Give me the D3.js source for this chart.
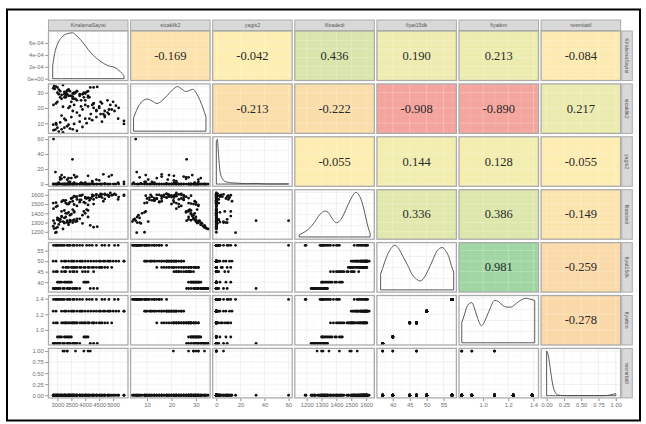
<!DOCTYPE html>
<html>
<head>
<meta charset="utf-8">
<script src="https://cdn.jsdelivr.net/npm/d3@7"></script>
<style>
  body { margin: 0; background: #fff; }
  svg { display: block; }
</style>
</head>
<body>
<svg id="chart"></svg>
<script>
// variable names (strip labels)
const varNames = ["KiralamaSayisi", "sicaklik2", "yagis2", "filoadedi", "fiyat15dk", "fiyatkm", "resmitatil"];

const kiralama = [
  2860, 2930, 2960, 3050, 3150, 3250, 3350, 3450, 3600, 3700, 3900, 4050, 4250, 4400, 4600, 4850, 5050, 5180, 3800, 3100, 3000, 3200, 3400, 3550, 4150, 4700,
  2850, 5390, 5390, 3300, 3500, 3700, 3900, 4100, 4300, 4500, 4700, 4900, 5000, 4650, 3400, 3600, 4000, 4400, 3150, 4800, 5200, 3800, 2950, 3250, 3550, 3850, 4200, 4550, 4850, 5100,
  3200, 3350, 3500, 3650, 3800, 3950, 4100, 4250, 4400, 4550, 4700, 4950, 3300, 3700, 4000, 4300, 4600, 3550, 3400, 3600, 3850, 4150, 4500, 4800,
  2860, 3000, 3150, 3300, 3450, 3700, 3900, 4100, 4300, 3550, 2950, 3250, 3600, 4000,
  3000, 3100, 3250, 3400, 3500, 3950, 4050, 3350, 3150, 4000, 3050, 3300, 3450, 4100,
  2850, 2950, 3050, 3200, 3350, 3540, 3650, 3800, 4180, 4300, 4430, 3100, 3450, 2900, 2880, 3000, 3250, 3400, 3600, 3700
];
const sicaklik = [
  5.4, 5.8, 9, 4.5, 6, 7, 8, 6.5, 9.5, 5, 7.5, 10, 12, 14, 11, 16, 18, 13, 15, 10.5, 7, 4, 9, 6, 13, 15,
  9, 11.5, 9.5, 12, 14, 17, 19, 21, 23, 20, 18, 22, 24, 16, 20, 22, 13, 18.5, 15, 25, 20, 11, 10, 13, 18, 21, 16, 24, 19, 21.5,
  20.8, 29, 24, 26, 28, 30, 31, 22, 18, 16, 14, 19, 27, 31, 25, 20, 23, 29.5, 28, 30, 25, 27, 21, 17,
  22, 24, 26, 28, 21, 25, 29, 27, 23, 27.5, 23, 27, 26, 22,
  30, 31, 29, 32, 28, 27, 30.5, 31.5, 28.5, 29.5, 29, 30, 31, 28,
  33, 34, 32, 35, 31, 26.2, 30, 29, 33.5, 33.5, 33.8, 27, 28, 32.5, 34.5, 33.5, 30.5, 32, 29.5, 31
];
const yagis = [
  60, 16, 0, 2, 0, 9, 0, 0, 12, 0, 1, 0, 3, 0, 0, 10, 0, 2, 0, 6, 0, 0, 3, 0, 0, 0,
  0, 0, 3, 0, 8, 0, 0, 11, 0, 0, 1, 0, 0, 13, 0, 0, 0, 6, 0, 0, 0, 0, 0, 0, 0, 2, 0, 0, 0, 0,
  0, 0, 0, 9, 0, 0, 0, 4, 0, 0, 0, 12, 0, 0, 0, 0, 0, 0, 0, 0, 0, 0, 5, 0,
  0, 0, 7, 0, 0, 10, 0, 0, 0, 0, 0, 0, 0, 2,
  0, 0, 0, 8, 0, 0, 0, 0, 12, 0, 0, 0, 3, 0,
  0, 0, 0, 0, 6, 33, 0, 0, 0, 0, 0, 9, 0, 0, 0, 0, 0, 0, 2, 0
];
const filoadedi = [
  1320, 1190, 1195, 1330, 1360, 1300, 1400, 1380, 1420, 1340, 1290, 1560, 1580, 1600, 1570, 1590, 1610, 1550, 1520, 1310, 1350, 1310, 1410, 1300, 1540, 1600,
  1510, 1600, 1590, 1540, 1560, 1580, 1600, 1570, 1550, 1590, 1610, 1620, 1600, 1530, 1500, 1585, 1565, 1605, 1525, 1595, 1575, 1545, 1515, 1535, 1570, 1590, 1560, 1610, 1580, 1600,
  1540, 1500, 1560, 1580, 1590, 1520, 1490, 1600, 1570, 1585, 1555, 1595, 1510, 1480, 1575, 1590, 1605, 1530, 1505, 1495, 1545, 1565, 1580, 1600,
  1450, 1480, 1420, 1400, 1520, 1550, 1380, 1360, 1500, 1440, 1470, 1430, 1410, 1510,
  1330, 1310, 1350, 1300, 1390, 1420, 1440, 1320, 1370, 1400, 1340, 1360, 1305, 1430,
  1260, 1240, 1280, 1230, 1300, 1320, 1310, 1340, 1270, 1250, 1255, 1335, 1325, 1290, 1235, 1250, 1295, 1275, 1330, 1315
];
const fiyat15dk = [
  57.5, 57.5, 57.5, 57.5, 57.5, 57.5, 57.5, 57.5, 57.5, 57.5, 57.5, 57.5, 57.5, 57.5, 57.5, 57.5, 57.5, 57.5, 57.5, 57.5, 57.5, 57.5, 57.5, 57.5, 57.5, 57.5,
  50, 50, 50, 50, 50, 50, 50, 50, 50, 50, 50, 50, 50, 50, 50, 50, 50, 50, 50, 50, 50, 50, 50, 50, 50, 50, 50, 50, 50, 50,
  47, 47, 47, 47, 47, 47, 47, 47, 47, 47, 47, 47, 47, 47, 47, 47, 47, 47, 47, 47, 47, 47, 47, 47,
  45, 45, 45, 45, 45, 45, 45, 45, 45, 45, 45, 45, 45, 45,
  40, 40, 40, 40, 40, 40, 40, 40, 40, 40, 40, 40, 40, 40,
  37, 37, 37, 37, 37, 37, 37, 37, 37, 37, 37, 37, 37, 37, 37, 37, 37, 37, 37, 37
];
const fiyatkm = [
  1.39, 1.39, 1.39, 1.39, 1.39, 1.39, 1.39, 1.39, 1.39, 1.39, 1.39, 1.39, 1.39, 1.39, 1.39, 1.39, 1.39, 1.39, 1.39, 1.39, 1.39, 1.39, 1.39, 1.39, 1.39, 1.39,
  1.24, 1.24, 1.24, 1.24, 1.24, 1.24, 1.24, 1.24, 1.24, 1.24, 1.24, 1.24, 1.24, 1.24, 1.24, 1.24, 1.24, 1.24, 1.24, 1.24, 1.24, 1.24, 1.24, 1.24, 1.24, 1.24, 1.24, 1.24, 1.24, 1.24,
  1.09, 1.09, 1.09, 1.09, 1.09, 1.09, 1.09, 1.09, 1.09, 1.09, 1.09, 1.09, 1.09, 1.09, 1.09, 1.09, 1.09, 1.09, 1.09, 1.09, 1.09, 1.09, 1.09, 1.09,
  1.09, 1.09, 1.09, 1.09, 1.09, 1.09, 1.09, 1.09, 1.09, 1.09, 1.09, 1.09, 1.09, 1.09,
  0.91, 0.91, 0.91, 0.91, 0.91, 0.91, 0.91, 0.91, 0.91, 0.91, 0.91, 0.91, 0.91, 0.91,
  0.83, 0.83, 0.83, 0.83, 0.83, 0.83, 0.83, 0.83, 0.83, 0.83, 0.83, 0.83, 0.83, 0.83, 0.83, 0.83, 0.83, 0.83, 0.83, 0.83
];
const resmitatil = [
  0, 0, 0, 0, 0, 0, 0, 0, 0, 0, 0, 0, 0, 0, 0, 0, 0, 0, 0, 0, 0, 0, 0, 0, 0, 0,
  0, 0, 0, 0, 0, 0, 0, 0, 0, 0, 0, 0, 0, 0, 0, 0, 0, 0, 0, 0, 0, 0, 0, 0, 0, 0, 0, 0, 0, 0,
  1, 1, 0, 0, 0, 0, 1, 0, 0, 0, 0, 0, 0, 0, 0, 0, 0, 0, 0, 0, 0, 0, 0, 0,
  0, 0, 0, 0, 0, 0, 0, 0, 0, 0, 0, 0, 0, 0,
  0, 0, 1, 0, 0, 1, 0, 0, 0, 0, 0, 0, 0, 0,
  0, 0, 0, 0, 1, 0, 1, 0, 1, 0, 0, 0, 0, 0, 0, 0, 0, 0, 0, 0
];

// correlation labels of the upper triangle, row by row
const corrUpper = [
  [-0.169, -0.042, 0.436, 0.190, 0.213, -0.084],
  [-0.213, -0.222, -0.908, -0.890, 0.217],
  [-0.055, 0.144, 0.128, -0.055],
  [0.336, 0.386, -0.149],
  [0.981, -0.259],
  [-0.278]
];

// density curves on the diagonal: [value, height relative to the peak]
const densKiralama = [[2830,0.28],[2900,0.55],[3000,0.75],[3150,0.9],[3350,0.98],[3540,1.0],[3700,0.93],[3930,0.78],[4100,0.64],[4290,0.51],[4500,0.4],[4790,0.29],[5070,0.24],[5250,0.16],[5390,0.07]];
const densSicaklik = [[4.5,0.3],[7,0.6],[10,0.72],[12,0.68],[14.1,0.62],[16,0.68],[18.3,0.8],[20.5,0.93],[22.5,1.0],[24.3,0.94],[25.8,0.89],[27.3,0.91],[28.7,0.94],[30.2,0.85],[31.6,0.7],[33,0.5],[34.1,0.32]];
const densYagis = [[0,0.95],[0.8,1.0],[2,0.6],[3,0.3],[5,0.12],[8,0.05],[12,0.03],[18,0.02],[25,0.01],[33,0.015],[40,0.005],[50,0.003],[60,0.005]];
const densFilo = [[1150,0.05],[1190,0.12],[1220,0.2],[1250,0.32],[1276,0.45],[1300,0.54],[1324,0.58],[1345,0.55],[1365,0.45],[1385,0.35],[1400,0.32],[1420,0.35],[1441,0.45],[1462,0.6],[1482,0.75],[1505,0.9],[1531,1.0],[1550,0.95],[1565,0.85],[1583,0.65],[1600,0.4],[1615,0.2],[1627,0.08]];
const densFiyat15 = [[36.4,0.35],[37.5,0.6],[38.5,0.8],[39.5,0.93],[40.6,1.0],[41.8,0.92],[43,0.75],[44.4,0.55],[45.7,0.35],[47,0.24],[48.1,0.2],[49.3,0.28],[50.5,0.45],[51.7,0.65],[52.9,0.85],[53.8,0.93],[54.7,0.95],[55.6,0.88],[56.5,0.75],[57.3,0.55],[58,0.4]];
const densFiyatkm = [[0.83,0.45],[0.85,0.62],[0.87,0.8],[0.89,0.88],[0.91,0.9],[0.93,0.78],[0.95,0.6],[0.97,0.45],[0.985,0.38],[1.0,0.42],[1.03,0.6],[1.06,0.8],[1.09,0.95],[1.12,0.93],[1.15,0.85],[1.19,0.8],[1.22,0.8],[1.25,0.85],[1.28,0.92],[1.31,0.97],[1.34,1.0],[1.37,0.98],[1.41,0.95]];
const densTatil = [[0,1.0],[0.02,0.93],[0.04,0.75],[0.06,0.52],[0.08,0.32],[0.1,0.17],[0.13,0.06],[0.16,0.02],[0.2,0.005],[0.3,0],[0.8,0],[0.88,0.005],[0.93,0.02],[0.97,0.035],[1.0,0.045]];
const kiralamaPeak = 7.7e-4; // peak density of KiralamaSayisi (left axis of first row)

// axis ticks
const ticksKiralama = [3000, 3500, 4000, 4500, 5000];
const ticksSicaklik = [10, 20, 30];
const ticksYagis = [0, 20, 40, 60];
const ticksFilo = [1200, 1300, 1400, 1500, 1600];
const ticksFiyat15 = [40, 45, 50, 55];
const ticksFiyatkm = [1.0, 1.2, 1.4];
const ticksTatil = [0, 0.25, 0.5, 0.75, 1];
const densTicks = [0, 2e-4, 4e-4, 6e-4];
const densTickLabels = ["0e+00", "2e-04", "4e-04", "6e-04"];

const cols = [kiralama, sicaklik, yagis, filoadedi, fiyat15dk, fiyatkm, resmitatil];
const dens = [densKiralama, densSicaklik, densYagis, densFilo, densFiyat15, densFiyatkm, densTatil];
const ticks = [ticksKiralama, ticksSicaklik, ticksYagis, ticksFilo, ticksFiyat15, ticksFiyatkm, ticksTatil];
const domains = [[2680, 5535], [3.3, 35.8], [-3, 63], [1120, 1655], [35.3, 58.8], [0.808, 1.44], [-0.08, 1.07]];
const yDomains = domains.map((d, i) => i === 6 ? [-0.06, 1.06] : d);
const fmt = [d3.format("d"), d3.format("d"), d3.format("d"), d3.format("d"), d3.format("d"), d3.format(".1f"), d3.format(".2f")];

const svg = d3.select("#chart").attr("width", 646).attr("height", 424);

const n = 7;
const gridLeft = 48.5, gridTop = 31, stepX = 82.1, stepY = 52.9, pw = 79.5, ph = 49.5;
const px = j => gridLeft + j * stepX;
const py = i => gridTop + i * stepY;

const corrColor = d3.scaleLinear()
  .domain([-1, -0.5, 0, 0.5, 1])
  .range(["#F39C9C", "#F7C39F", "#FEF2B3", "#D3E3A9", "#9DD6A2"]);

// minor grid positions between ticks
function minors(tv, dom) {
  const out = [];
  const st = tv[1] - tv[0];
  const all = [tv[0] - st].concat(tv, [tv[tv.length - 1] + st]);
  for (let k = 0; k < all.length - 1; k++) {
    const m = (all[k] + all[k + 1]) / 2;
    if (m > dom[0] && m < dom[1]) out.push(m);
  }
  return out;
}

function grid(g, x, y, xt, yt, onColor) {
  const xd = x.domain(), yd = y.domain();
  const c1 = onColor ? "rgba(255,255,255,0.35)" : "#EBEBEB";
  const c2 = onColor ? "rgba(255,255,255,0.22)" : "#F4F4F4";
  const x0 = x.range()[0], x1 = x.range()[1], y0 = y.range()[1], y1 = y.range()[0];
  g.selectAll(null).data(minors(xt, xd)).join("line")
    .attr("x1", d => x(d)).attr("x2", d => x(d)).attr("y1", y0).attr("y2", y1)
    .attr("stroke", c2).attr("stroke-width", 0.4);
  g.selectAll(null).data(minors(yt, yd)).join("line")
    .attr("y1", d => y(d)).attr("y2", d => y(d)).attr("x1", x0).attr("x2", x1)
    .attr("stroke", c2).attr("stroke-width", 0.4);
  g.selectAll(null).data(xt.filter(v => v >= xd[0] && v <= xd[1])).join("line")
    .attr("x1", d => x(d)).attr("x2", d => x(d)).attr("y1", y0).attr("y2", y1)
    .attr("stroke", c1).attr("stroke-width", 0.7);
  g.selectAll(null).data(yt.filter(v => v >= yd[0] && v <= yd[1])).join("line")
    .attr("y1", d => y(d)).attr("y2", d => y(d)).attr("x1", x0).attr("x2", x1)
    .attr("stroke", c1).attr("stroke-width", 0.7);
}

const relTicks = [0, 0.25, 0.5, 0.75, 1];

for (let i = 0; i < n; i++) {
  for (let j = 0; j < n; j++) {
    const g = svg.append("g");
    const x = d3.scaleLinear().domain(domains[j]).range([px(j), px(j) + pw]);
    let y;
    if (i === j) {
      y = i === 0
        ? d3.scaleLinear().domain([-0.04 * kiralamaPeak, 1.04 * kiralamaPeak]).range([py(i) + ph, py(i)])
        : d3.scaleLinear().domain([-0.05, 1.06]).range([py(i) + ph, py(i)]);
    } else {
      y = d3.scaleLinear().domain(yDomains[i]).range([py(i) + ph, py(i)]);
    }

    if (i < j) {
      const r = corrUpper[i][j - i - 1];
      g.append("rect").attr("x", px(j)).attr("y", py(i)).attr("width", pw).attr("height", ph)
        .attr("fill", corrColor(r));
      grid(g, x, y, ticks[j], ticks[i], true);
      g.append("text")
        .attr("x", px(j) + pw / 2).attr("y", py(i) + ph / 2)
        .attr("text-anchor", "middle").attr("dominant-baseline", "central")
        .attr("font-family", "Liberation Serif, serif").attr("font-size", 12.5)
        .attr("fill", "#2a2a2a")
        .text(r.toFixed(3));
    } else if (i === j) {
      g.append("rect").attr("x", px(j)).attr("y", py(i)).attr("width", pw).attr("height", ph).attr("fill", "#fff");
      grid(g, x, y, ticks[j], i === 0 ? densTicks : relTicks, false);
      const scale = i === 0 ? kiralamaPeak : 1;
      const area = d3.area()
        .x(d => x(d[0]))
        .y0(y(0))
        .y1(d => y(d[1] * scale))
        .curve(d3.curveMonotoneX);
      g.append("path").datum(dens[i]).attr("d", area)
        .attr("fill", "none").attr("stroke", "#4a4a4a").attr("stroke-width", 0.9);
    } else {
      g.append("rect").attr("x", px(j)).attr("y", py(i)).attr("width", pw).attr("height", ph).attr("fill", "#fff");
      grid(g, x, y, ticks[j], ticks[i], false);
      g.selectAll("circle").data(cols[j].map((v, k) => [v, cols[i][k]])).join("circle")
        .attr("cx", d => x(d[0])).attr("cy", d => y(d[1]))
        .attr("r", 1.4).attr("fill", "#111");
    }

    g.append("rect").attr("x", px(j)).attr("y", py(i)).attr("width", pw).attr("height", ph)
      .attr("fill", "none").attr("stroke", "#ABABAB").attr("stroke-width", 1.3);

    // left axis
    if (j === 0) {
      const ax = i === 0
        ? d3.axisLeft(y).tickValues(densTicks).tickFormat((d, k) => densTickLabels[k])
        : d3.axisLeft(y).tickValues(ticks[i]).tickFormat(fmt[i]);
      const a = svg.append("g").attr("transform", `translate(${px(0) - 0.7},0)`)
        .call(ax.tickSize(2.5).tickPadding(1.5));
      a.select(".domain").remove();
      a.selectAll("line").attr("stroke", "#8a8a8a");
      a.selectAll("text").attr("fill", "#6e6e6e").attr("font-size", 5.8)
        .attr("font-family", "Liberation Sans, Arial, sans-serif");
    }
    // bottom axis
    if (i === n - 1) {
      const a = svg.append("g").attr("transform", `translate(0,${py(i) + ph + 0.7})`)
        .call(d3.axisBottom(x).tickValues(ticks[j]).tickFormat(fmt[j]).tickSize(2.5).tickPadding(1.5));
      a.select(".domain").remove();
      a.selectAll("line").attr("stroke", "#8a8a8a");
      a.selectAll("text").attr("fill", "#6e6e6e").attr("font-size", 5.8)
        .attr("font-family", "Liberation Sans, Arial, sans-serif");
    }
  }
}

// strips on top
const strips = svg.append("g");
varNames.forEach((name, j) => {
  strips.append("rect").attr("x", px(j)).attr("y", 20).attr("width", pw).attr("height", 10.5)
    .attr("fill", "#D9D9D9").attr("stroke", "#ABABAB").attr("stroke-width", 1);
  strips.append("text").attr("x", px(j) + pw / 2).attr("y", 25.3)
    .attr("text-anchor", "middle").attr("dominant-baseline", "central")
    .attr("font-family", "Liberation Sans, Arial, sans-serif").attr("font-size", 5.3)
    .attr("fill", "#555").text(name);
});
// strips on the right
const rx = px(6) + pw + 1.2;
varNames.forEach((name, i) => {
  strips.append("rect").attr("x", rx).attr("y", py(i)).attr("width", 10.5).attr("height", ph)
    .attr("fill", "#D9D9D9").attr("stroke", "#ABABAB").attr("stroke-width", 1);
  strips.append("text")
    .attr("transform", `translate(${rx + 5.25},${py(i) + ph / 2}) rotate(90)`)
    .attr("text-anchor", "middle").attr("dominant-baseline", "central")
    .attr("font-family", "Liberation Sans, Arial, sans-serif").attr("font-size", 5.3)
    .attr("fill", "#555").text(name);
});

// outer frame
svg.append("rect").attr("x", 7).attr("y", 9.5).attr("width", 633).attr("height", 411)
  .attr("fill", "none").attr("stroke", "#000").attr("stroke-width", 2);
</script>
</body>
</html>
